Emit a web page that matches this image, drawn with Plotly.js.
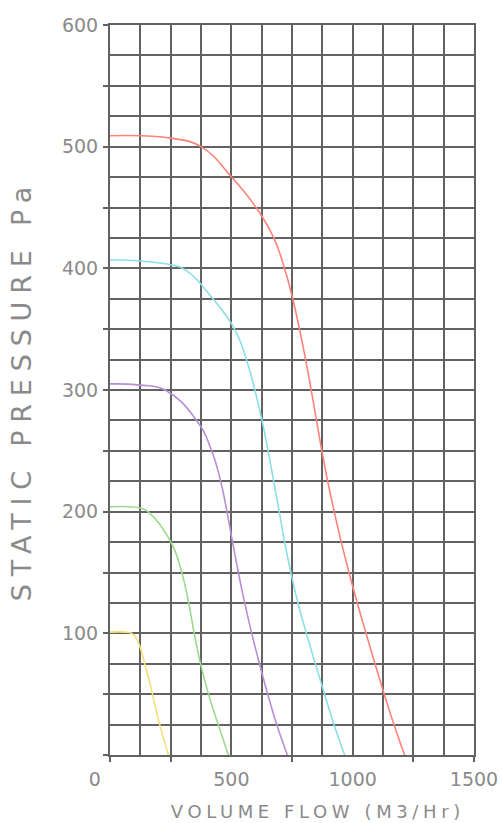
<!DOCTYPE html>
<html>
<head>
<meta charset="utf-8">
<script src="https://cdn.plot.ly/plotly-3.0.1.min.js"></script>
<style>
  html, body { margin: 0; padding: 0; background: #ffffff; }
  #chart { width: 502px; height: 823px; }
  .xtitle { letter-spacing: 4.6px; }
  .ytitle { letter-spacing: 7.8px; }
</style>
</head>
<body>
<div id="chart"></div>
<script>
// ---- data (flow in M3/Hr, static pressure in Pa) ----
const redFlow    = [0, 125, 250, 375, 501, 602, 675, 719, 753, 781, 806, 829, 851, 873, 897, 924, 953, 985, 1019, 1055, 1092, 1130, 1170, 1214];
const redPress   = [509, 509, 507, 500, 475, 450, 425, 400, 375, 350, 325, 300, 275, 250, 225, 200, 175, 150, 125, 100, 75, 50, 25, 0];

const cyanFlow   = [0, 125, 250, 309, 426, 515, 563, 597, 627, 652, 675, 698, 720, 746, 775, 810, 847, 885, 924, 967];
const cyanPress  = [407, 406, 403, 399, 374.5, 349.5, 324.5, 300, 274.5, 249.5, 224.5, 199.5, 174.5, 149.5, 124.5, 99.5, 74.5, 49.5, 24.5, 0];

const purpleFlow = [0, 125, 227, 357, 419, 456, 482, 505, 529, 555, 584, 616, 650, 687, 731];
const purplePress= [305, 304, 300, 275, 250, 225, 200, 175, 150, 125, 100, 75, 50, 25, 0];

const greenFlow  = [0, 125, 160, 251, 296, 324, 347, 373, 406, 446, 488];
const greenPress = [204, 203, 199.5, 175, 150, 125, 100, 75, 50, 25, 0];

const yellowFlow = [0, 60, 90, 111, 128, 143, 163, 175, 205, 241];
const yellowPress= [101, 101, 100, 95, 86, 75, 60, 50, 25, 0];

// tick labels
const xLabelVals = [0, 500, 1000, 1500];
const xLabelText = ['0\u00a0\u00a0\u00a0\u00a0\u00a0', '500', '1000', '1500'];
const yLabelVals = [100, 200, 300, 400, 500, 600];
const yLabelText = ['100', '200', '300', '400', '500', '600'];
const xTickMarks = [0, 250, 750, 1250, 1500];
const yTickMarks = [0, 50, 100, 150, 200, 250, 300, 350, 400, 450, 500, 550, 600];

// ---- build grid tick arrays ----
const xGrid = [], xGridText = [];
for (let v = 0; v <= 1500; v += 125) {
  xGrid.push(v);
  const i = xLabelVals.indexOf(v);
  xGridText.push(i >= 0 ? xLabelText[i] : '');
}
const yGrid = [], yGridText = [];
for (let v = 0; v <= 600; v += 25) {
  yGrid.push(v);
  const i = yLabelVals.indexOf(v);
  yGridText.push(i >= 0 ? yLabelText[i] : '');
}

const gridColor = '#626262';
const textColor = '#8a8a8a';
const fontFam = 'DejaVu Sans, Liberation Sans, sans-serif';

function curve(x, y, color) {
  return {
    x: x, y: y, type: 'scatter', mode: 'lines',
    line: { color: color, width: 1.6, shape: 'spline', smoothing: 1.3 },
    hoverinfo: 'skip', showlegend: false
  };
}

const traces = [
  curve(redFlow, redPress, '#ff8378'),
  curve(cyanFlow, cyanPress, '#8adfe8'),
  curve(purpleFlow, purplePress, '#b88fd6'),
  curve(greenFlow, greenPress, '#9bdb8c'),
  curve(yellowFlow, yellowPress, '#f3e07a'),
  // empty trace that carries the tick-mark overlay axes
  { x: [], y: [], xaxis: 'x2', yaxis: 'y2', type: 'scatter', mode: 'lines', showlegend: false, hoverinfo: 'skip' }
];

const layout = {
  width: 502, height: 823,
  margin: { l: 110, r: 28, t: 25, b: 68 },
  paper_bgcolor: '#ffffff', plot_bgcolor: '#ffffff',
  showlegend: false,
  font: { family: fontFam, color: textColor, size: 19 },
  xaxis: {
    range: [0, 1500], fixedrange: true,
    tickmode: 'array', tickvals: xGrid, ticktext: xGridText,
    ticks: '', showgrid: true, gridcolor: gridColor, gridwidth: 2,
    zeroline: false, showline: true, linecolor: gridColor, linewidth: 2, mirror: true,
    tickfont: { family: fontFam, color: textColor, size: 19 },
    ticklabelstandoff: 6,
    title: { text: '\u200b\u00a0\u00a0\u00a0\u00a0\u00a0VOLUME FLOW (M3/Hr)', font: { family: fontFam, color: textColor, size: 18 }, standoff: 17 }
  },
  yaxis: {
    range: [0, 600], fixedrange: true,
    tickmode: 'array', tickvals: yGrid, ticktext: yGridText,
    ticks: '', showgrid: true, gridcolor: gridColor, gridwidth: 2,
    zeroline: false, showline: true, linecolor: gridColor, linewidth: 2, mirror: true,
    tickfont: { family: fontFam, color: textColor, size: 19 },
    ticklabelstandoff: 6,
    title: { text: 'STATIC PRESSURE Pa', font: { family: fontFam, color: textColor, size: 27 }, standoff: 22 }
  },
  xaxis2: {
    overlaying: 'x', anchor: 'y', side: 'bottom', range: [0, 1500], fixedrange: true,
    tickmode: 'array', tickvals: xTickMarks, ticks: 'outside', ticklen: 6, tickwidth: 2, tickcolor: gridColor,
    showticklabels: false, showgrid: false, zeroline: false, showline: false
  },
  yaxis2: {
    overlaying: 'y', anchor: 'x', side: 'left', range: [0, 600], fixedrange: true,
    tickmode: 'array', tickvals: yTickMarks, ticks: 'outside', ticklen: 6, tickwidth: 2, tickcolor: gridColor,
    showticklabels: false, showgrid: false, zeroline: false, showline: false
  }
};

Plotly.newPlot('chart', traces, layout, { staticPlot: true, displayModeBar: false });
</script>
</body>
</html>
